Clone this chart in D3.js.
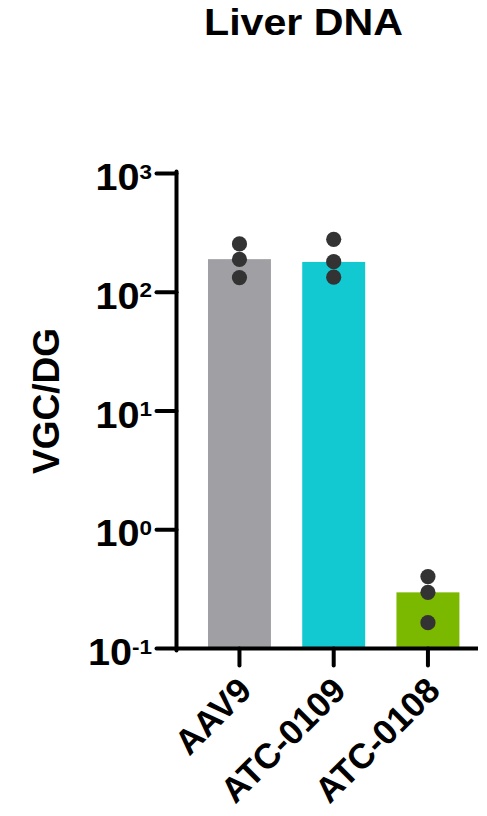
<!DOCTYPE html>
<html>
<head>
<meta charset="utf-8">
<script src="https://cdn.jsdelivr.net/npm/d3@7"></script>
<style>
  html, body { margin: 0; padding: 0; background: #fff; }
  svg { display: block; }
  text { font-family: Arial, "Liberation Sans", Helvetica, sans-serif; font-weight: bold; fill: #000; }
</style>
</head>
<body>
<svg id="chart" width="487" height="816"></svg>
<script>
// Vector genome copies per diploid genome in liver, per capsid
const groups = ["AAV9", "ATC-0109", "ATC-0108"];
const barValues = [190, 180, 0.297];
const pointsAAV9 = [255, 189, 133];
const pointsATC0109 = [279, 181, 134];
const pointsATC0108 = [0.403, 0.297, 0.165];
const barColors = ["#a09fa4", "#12c9d1", "#7bb800"];
const yTickExponents = [-1, 0, 1, 2, 3];

const points = [pointsAAV9, pointsATC0109, pointsATC0108];

const svg = d3.select("#chart");

const axisX = 176.5;
const axisRight = 478;

const y = d3.scaleLog().domain([0.1, 1000]).range([648.5, 173.5]);
const x = d3.scaleBand().domain(groups).range([176.7, 490.7]).paddingInner(0.332).paddingOuter(0.332);

// Title
svg.append("text")
  .attr("x", 303.5).attr("y", 34.5)
  .attr("text-anchor", "middle")
  .attr("font-size", 36)
  .attr("textLength", 199)
  .attr("lengthAdjust", "spacingAndGlyphs")
  .text("Liver DNA");

// Y axis title
svg.append("text")
  .attr("transform", "translate(58.5,401) rotate(-90)")
  .attr("text-anchor", "middle")
  .attr("font-size", 37)
  .text("VGC/DG");

// Bars
svg.append("g").selectAll("rect")
  .data(groups)
  .join("rect")
  .attr("x", d => x(d))
  .attr("width", x.bandwidth())
  .attr("y", (d, i) => y(barValues[i]))
  .attr("height", (d, i) => y(0.1) - y(barValues[i]))
  .attr("fill", (d, i) => barColors[i]);

// Individual replicates
const dots = groups.flatMap((g, i) => points[i].map(v => ({ g, v })));
svg.append("g").selectAll("circle")
  .data(dots)
  .join("circle")
  .attr("cx", d => x(d.g) + x.bandwidth() / 2)
  .attr("cy", d => y(d.v))
  .attr("r", 7.6)
  .attr("fill", "#333333");

// Y axis
const yAxis = svg.append("g");
yAxis.append("line")
  .attr("x1", axisX).attr("x2", axisX)
  .attr("y1", y(1000) - 2).attr("y2", y(0.1) + 2)
  .attr("stroke", "#000").attr("stroke-width", 4).attr("stroke-linecap", "round");
const yTicks = yAxis.selectAll("g.tick")
  .data(yTickExponents)
  .join("g")
  .attr("class", "tick")
  .attr("transform", d => `translate(0,${y(Math.pow(10, d))})`);
yTicks.append("line")
  .attr("x1", axisX - 20).attr("x2", axisX)
  .attr("stroke", "#000").attr("stroke-width", 4).attr("stroke-linecap", "round");
const yLabels = yTicks.append("text")
  .attr("transform", "translate(152,16.5) scale(1.07,1)")
  .attr("text-anchor", "end")
  .attr("font-size", 37);
yLabels.append("tspan").text("10");
yLabels.append("tspan")
  .attr("font-size", 21)
  .attr("dy", -11.5)
  .text(d => String(d));

// X axis
const xAxis = svg.append("g");
xAxis.append("line")
  .attr("x1", axisX).attr("x2", axisRight)
  .attr("y1", y(0.1)).attr("y2", y(0.1))
  .attr("stroke", "#000").attr("stroke-width", 4);
const xTicks = xAxis.selectAll("g.tick")
  .data(groups)
  .join("g")
  .attr("class", "tick")
  .attr("transform", d => `translate(${x(d) + x.bandwidth() / 2},${y(0.1)})`);
xTicks.append("line")
  .attr("y1", 0).attr("y2", 17)
  .attr("stroke", "#000").attr("stroke-width", 4).attr("stroke-linecap", "round");
xTicks.append("text")
  .attr("transform", "translate(14,44) rotate(-45)")
  .attr("text-anchor", "end")
  .attr("font-size", 35)
  .text(d => d);
</script>
</body>
</html>
